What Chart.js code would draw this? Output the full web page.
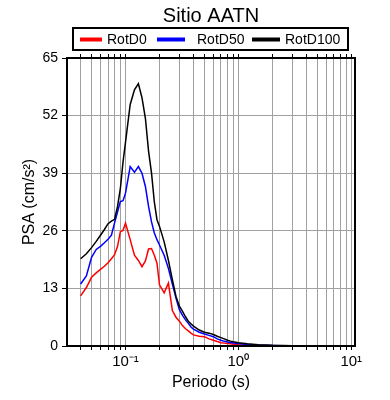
<!DOCTYPE html>
<html>
<head>
<meta charset="utf-8">
<script src="https://cdn.jsdelivr.net/npm/chart.js@4.4.0/dist/chart.umd.min.js"></script>
<style>
  body { margin: 0; background: #fff; }
</style>
</head>
<body>
<canvas id="chart" width="390" height="400"></canvas>
<script>
const chartTitle = "Sitio AATN";
const seriesNames = ["RotD0", "RotD50", "RotD100"];
const seriesColors = ["#ff0000", "#0000ff", "#000000"];

// periodos (s)
const periods = [0.04, 0.045, 0.05, 0.055, 0.06, 0.065, 0.07, 0.075, 0.08, 0.085, 0.09, 0.095,
  0.1, 0.11, 0.12, 0.13, 0.14, 0.15, 0.16, 0.17, 0.18, 0.19, 0.2, 0.22, 0.24, 0.26, 0.28,
  0.3, 0.32, 0.34, 0.36, 0.38, 0.4, 0.45, 0.5, 0.55, 0.6, 0.65, 0.7, 0.75, 0.8, 0.85, 0.9, 0.95,
  1.0, 1.2, 1.5, 2, 2.5, 3, 4, 5, 7.5, 10];

// PSA (cm/s2)
const rotD0 = [11.3, 13.2, 15.5, 16.5, 17.3, 18.0, 18.8, 19.7, 20.6, 22.5, 25.8, 26.1,
  27.7, 24.0, 20.5, 19.3, 17.9, 19.2, 21.9, 22.0, 20.5, 18.7, 13.8, 12.0, 14.2, 8.0, 6.5,
  5.6, 4.6, 3.9, 3.4, 2.9, 2.5, 2.2, 2.1, 1.6, 1.3, 1.0, 0.75, 0.65, 0.55, 0.5, 0.4, 0.35,
  0.3, 0.2, 0.12, 0.07, 0.05, 0.04, 0.03, 0.02, 0.01, 0.01];

const rotD50 = [14.0, 15.8, 20.0, 21.8, 22.5, 23.3, 24.1, 25.0, 27.8, 30.3, 32.6, 32.8,
  34.5, 40.5, 39.2, 40.5, 39.0, 36.0, 31.5, 28.0, 25.5, 24.0, 22.8, 20.5, 17.5, 14.0, 10.8,
  8.2, 6.9, 5.9, 5.1, 4.3, 3.8, 3.1, 2.7, 2.4, 2.1, 1.6, 1.3, 1.05, 0.9, 0.8, 0.7, 0.6,
  0.55, 0.35, 0.2, 0.12, 0.08, 0.06, 0.04, 0.03, 0.02, 0.01];

const rotD100 = [19.7, 20.8, 22.2, 23.6, 25.0, 26.3, 27.6, 28.2, 28.6, 31.5, 35.5, 41.5,
  46.0, 54.5, 57.8, 59.2, 56.0, 51.4, 44.0, 39.0, 32.5, 28.5, 27.0, 23.5, 19.3, 15.0, 11.2,
  9.0, 7.8, 6.6, 5.6, 5.0, 4.5, 3.6, 3.1, 2.9, 2.6, 2.2, 1.9, 1.6, 1.3, 1.1, 0.95, 0.85,
  0.75, 0.5, 0.3, 0.15, 0.1, 0.07, 0.05, 0.04, 0.03, 0.02];

const xTicks = [0.04, 0.05, 0.06, 0.07, 0.08, 0.09, 0.1, 0.2, 0.3, 0.4, 0.5, 0.6, 0.7, 0.8, 0.9,
  1, 2, 3, 4, 5, 6, 7, 8, 9, 10];
const xLabels = { 0.1: "10\u207B\u00B9", 1: "10\u2070", 10: "10\u00B9" };
const yTicks = [0, 13, 26, 39, 52, 65];

const FONT = "'Liberation Sans', Arial, sans-serif";

const toPoints = (vals) => periods.map((p, i) => ({ x: p, y: vals[i] }));
const allSeries = [rotD0, rotD50, rotD100];

// titulo, leyenda con marco y marco del grafico
const decor = {
  id: "decor",
  afterDraw(chart) {
    const ctx = chart.ctx;
    const a = chart.chartArea;
    ctx.save();
    ctx.strokeStyle = "#000";
    ctx.lineWidth = 2;
    ctx.strokeRect(a.left, a.top, a.right - a.left, a.bottom - a.top);

    ctx.fillStyle = "#000";
    ctx.font = "20px " + FONT;
    ctx.textAlign = "center";
    ctx.textBaseline = "alphabetic";
    ctx.fillText(chartTitle, (a.left + a.right) / 2, 22);

    // leyenda
    ctx.lineWidth = 2;
    ctx.strokeRect(73, 28, 275, 22);
    const lineX = [80, 157, 252];
    const lineW = [22, 28, 28];
    const textX = [107, 197, 285];
    ctx.font = "14px " + FONT;
    ctx.textAlign = "left";
    ctx.textBaseline = "middle";
    seriesNames.forEach((name, i) => {
      ctx.strokeStyle = seriesColors[i];
      ctx.lineWidth = 4;
      ctx.beginPath();
      ctx.moveTo(lineX[i], 39.5);
      ctx.lineTo(lineX[i] + lineW[i], 39.5);
      ctx.stroke();
      ctx.fillStyle = "#000";
      ctx.fillText(name, textX[i], 40);
    });
    ctx.restore();
  }
};

// dataset 0 se dibuja encima: negro arriba, rojo abajo
const datasets = allSeries.map((vals, i) => ({
  label: seriesNames[i],
  data: toPoints(vals),
  borderColor: seriesColors[i],
  backgroundColor: seriesColors[i],
  borderWidth: 1.5,
  pointRadius: 0,
  tension: 0,
  fill: false
})).reverse();

new Chart(document.getElementById("chart"), {
  type: "line",
  data: { datasets: datasets },
  options: {
    responsive: false,
    animation: false,
    devicePixelRatio: 1,
    layout: { padding: { top: 52, right: 35, left: 0, bottom: 0 } },
    plugins: {
      legend: { display: false },
      title: { display: false },
      tooltip: { enabled: false }
    },
    scales: {
      x: {
        type: "logarithmic",
        position: "bottom",
        min: 0.0303,
        max: 10.8,
        afterBuildTicks: (s) => { s.ticks = xTicks.map(v => ({ value: v })); },
        afterFit: (s) => { s.height = 54; },
        ticks: {
          autoSkip: false,
          maxRotation: 0,
          color: "#000",
          font: { family: FONT, size: 15 },
          padding: 3,
          callback: (v) => xLabels[v] || ""
        },
        grid: { color: "#a0a0a0", lineWidth: 1, tickColor: "#000", tickLength: 4 },
        border: { color: "#000", width: 2 },
        title: {
          display: true,
          text: "Periodo (s)",
          color: "#000",
          font: { family: FONT, size: 16 },
          padding: { top: 0, bottom: 8 }
        }
      },
      xTop: {
        type: "logarithmic",
        position: "top",
        min: 0.0303,
        max: 10.8,
        afterBuildTicks: (s) => { s.ticks = xTicks.map(v => ({ value: v })); },
        afterFit: (s) => { s.height = 6; },
        ticks: { display: false },
        grid: { drawOnChartArea: false, tickColor: "#000", tickLength: 4 },
        border: { color: "#000", width: 2 }
      },
      y: {
        min: 0,
        max: 65,
        afterBuildTicks: (s) => { s.ticks = yTicks.map(v => ({ value: v })); },
        afterFit: (s) => { s.width = 67; },
        ticks: {
          color: "#000",
          font: { family: FONT, size: 14 },
          padding: 4
        },
        grid: { color: "#a0a0a0", lineWidth: 1, tickColor: "#000", tickLength: 5 },
        border: { color: "#000", width: 2 },
        title: {
          display: true,
          text: "PSA (cm/s\u00B2)",
          color: "#000",
          font: { family: FONT, size: 16 },
          padding: { top: 20, bottom: 0 }
        }
      }
    }
  },
  plugins: [decor]
});
</script>
</body>
</html>
